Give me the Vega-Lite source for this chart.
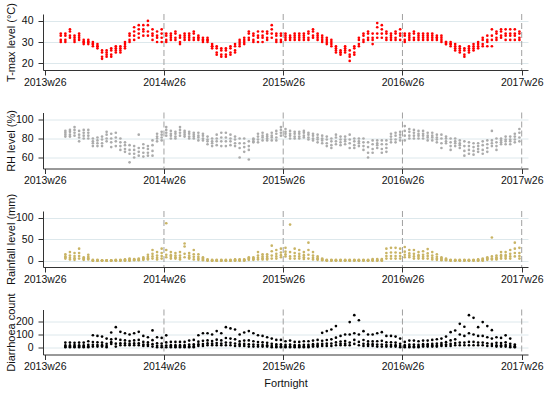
{
"$schema":"https://vega.github.io/schema/vega-lite/v6.json",
"padding":{"left":5,"top":2,"right":5,"bottom":2},
"background":"white",
"bounds":"flush",
"spacing":42.5,
"config":{"view":{"stroke":null},"font":"Liberation Sans",
"axis":{"domainColor":"#333333","tickColor":"#333333","labelColor":"#111111","titleColor":"#111111","labelFont":"Liberation Sans","titleFont":"Liberation Sans","titleFontWeight":"normal","labelFontSize":10.5,"titleFontSize":11,"tickSize":5,"gridColor":"#dde8ec","gridWidth":1},
"axisX":{"grid":false,"labelPadding":2},
"axisY":{"grid":true,"labelPadding":5,"titleBaseline":"bottom"}},
"data":{"values":[
{"w":7,"T":30,"H":null,"R":null,"D":null},{"w":7,"T":31,"H":null,"R":null,"D":null},{"w":7,"T":33,"H":null,"R":null,"D":null},{"w":7,"T":34,"H":null,"R":null,"D":null},
{"w":9,"T":30,"H":82,"R":5,"D":5},{"w":9,"T":31,"H":84,"R":8,"D":10},{"w":9,"T":33,"H":86,"R":10,"D":19},{"w":9,"T":34,"H":88,"R":15,"D":40},
{"w":11,"T":32,"H":82,"R":3,"D":5},{"w":11,"T":33,"H":84,"R":7,"D":10},{"w":11,"T":35,"H":87,"R":12,"D":19},{"w":11,"T":36,"H":89,"R":20,"D":40},
{"w":13,"T":30,"H":83,"R":2,"D":5},{"w":13,"T":31,"H":86,"R":6,"D":12},{"w":13,"T":32,"H":89,"R":11,"D":22},{"w":13,"T":33,"H":92,"R":18,"D":38},
{"w":15,"T":31,"H":77,"R":5,"D":6},{"w":15,"T":32,"H":81,"R":11,"D":11},{"w":15,"T":33,"H":84,"R":18,"D":20},{"w":15,"T":34,"H":88,"R":28,"D":40},
{"w":17,"T":29,"H":80,"R":2,"D":5},{"w":17,"T":30,"H":83,"R":4,"D":10},{"w":17,"T":30,"H":86,"R":5,"D":19},{"w":17,"T":31,"H":89,"R":8,"D":40},
{"w":19,"T":29,"H":80,"R":3,"D":5},{"w":19,"T":30,"H":83,"R":6,"D":12},{"w":19,"T":30,"H":86,"R":9,"D":23},{"w":19,"T":31,"H":89,"R":14,"D":50},
{"w":21,"T":28,"H":72,"R":0,"D":10},{"w":21,"T":29,"H":75,"R":0,"D":23},{"w":21,"T":29,"H":77,"R":1,"D":44},{"w":21,"T":30,"H":80,"R":2,"D":95},
{"w":23,"T":27,"H":72,"R":0,"D":10},{"w":23,"T":28,"H":75,"R":0,"D":22},{"w":23,"T":28,"H":78,"R":1,"D":42},{"w":23,"T":29,"H":81,"R":2,"D":90},
{"w":25,"T":22,"H":72,"R":0,"D":10},{"w":25,"T":23,"H":75,"R":0,"D":21},{"w":25,"T":25,"H":79,"R":1,"D":40},{"w":25,"T":26,"H":82,"R":1,"D":85},
{"w":27,"T":23,"H":77,"R":0,"D":5},{"w":27,"T":24,"H":80,"R":0,"D":15},{"w":27,"T":25,"H":84,"R":1,"D":31},{"w":27,"T":26,"H":87,"R":1,"D":70},
{"w":29,"T":23,"H":71,"R":0,"D":30},{"w":29,"T":24,"H":76,"R":0,"D":43},{"w":29,"T":26,"H":80,"R":1,"D":64},{"w":29,"T":27,"H":85,"R":1,"D":115},
{"w":31,"T":25,"H":72,"R":0,"D":10},{"w":31,"T":26,"H":77,"R":1,"D":32},{"w":31,"T":27,"H":81,"R":1,"D":68},{"w":31,"T":28,"H":86,"R":2,"D":155},
{"w":33,"T":25,"H":68,"R":0,"D":20},{"w":33,"T":26,"H":72,"R":1,"D":35},{"w":33,"T":27,"H":76,"R":1,"D":60},{"w":33,"T":28,"H":80,"R":2,"D":120},
{"w":35,"T":27,"H":66,"R":0,"D":20},{"w":35,"T":28,"H":69,"R":1,"D":34},{"w":35,"T":29,"H":73,"R":2,"D":56},{"w":35,"T":30,"H":76,"R":3,"D":110},
{"w":37,"T":30,"H":55,"R":0,"D":20},{"w":37,"T":31,"H":64,"R":1,"D":32},{"w":37,"T":33,"H":68,"R":3,"D":52},{"w":37,"T":34,"H":73,"R":5,"D":100},
{"w":39,"T":31,"H":60,"R":1,"D":20},{"w":39,"T":33,"H":64,"R":2,"D":34},{"w":39,"T":35,"H":68,"R":3,"D":56},{"w":39,"T":37,"H":72,"R":4,"D":110},
{"w":41,"T":32,"H":62,"R":1,"D":20},{"w":41,"T":34,"H":66,"R":2,"D":35},{"w":41,"T":36,"H":70,"R":3,"D":60},{"w":41,"T":38,"H":84,"R":5,"D":120},
{"w":43,"T":33,"H":61,"R":2,"D":15},{"w":43,"T":35,"H":65,"R":4,"D":26},{"w":43,"T":36,"H":70,"R":5,"D":45},{"w":43,"T":38,"H":74,"R":8,"D":90},
{"w":45,"T":33,"H":62,"R":3,"D":15},{"w":45,"T":35,"H":65,"R":6,"D":25},{"w":45,"T":38,"H":69,"R":9,"D":41},{"w":45,"T":40,"H":72,"R":14,"D":80},
{"w":47,"T":31,"H":62,"R":5,"D":10},{"w":47,"T":33,"H":67,"R":10,"D":28},{"w":47,"T":34,"H":73,"R":16,"D":58},{"w":47,"T":36,"H":78,"R":25,"D":131},
{"w":49,"T":30,"H":77,"R":3,"D":5},{"w":49,"T":32,"H":80,"R":7,"D":16},{"w":49,"T":33,"H":82,"R":12,"D":35},{"w":49,"T":35,"H":85,"R":20,"D":80},
{"w":51,"T":30,"H":78,"R":5,"D":5},{"w":51,"T":32,"H":81,"R":11,"D":16},{"w":51,"T":34,"H":84,"R":18,"D":33},{"w":51,"T":36,"H":87,"R":28,"D":75},
{"w":53,"T":30,"H":83,"R":8,"D":5},{"w":53,"T":31,"H":86,"R":14,"D":18},{"w":53,"T":33,"H":89,"R":25,"D":41},{"w":53,"T":34,"H":92,"R":87,"D":94},
{"w":55,"T":31,"H":80,"R":5,"D":5},{"w":55,"T":32,"H":83,"R":9,"D":11},{"w":55,"T":33,"H":85,"R":13,"D":21},{"w":55,"T":34,"H":88,"R":20,"D":45},
{"w":57,"T":31,"H":80,"R":5,"D":5},{"w":57,"T":32,"H":82,"R":8,"D":11},{"w":57,"T":34,"H":85,"R":12,"D":21},{"w":57,"T":35,"H":87,"R":18,"D":45},
{"w":59,"T":29,"H":83,"R":3,"D":5},{"w":59,"T":30,"H":86,"R":7,"D":11},{"w":59,"T":32,"H":89,"R":12,"D":21},{"w":59,"T":33,"H":92,"R":20,"D":45},
{"w":61,"T":31,"H":82,"R":8,"D":5},{"w":61,"T":32,"H":84,"R":16,"D":11},{"w":61,"T":33,"H":86,"R":33,"D":21},{"w":61,"T":34,"H":88,"R":40,"D":45},
{"w":63,"T":31,"H":80,"R":5,"D":5},{"w":63,"T":32,"H":82,"R":8,"D":12},{"w":63,"T":33,"H":85,"R":12,"D":25},{"w":63,"T":34,"H":87,"R":18,"D":55},
{"w":65,"T":31,"H":80,"R":3,"D":5},{"w":65,"T":32,"H":82,"R":9,"D":13},{"w":65,"T":34,"H":84,"R":15,"D":27},{"w":65,"T":35,"H":86,"R":25,"D":60},
{"w":67,"T":31,"H":78,"R":2,"D":15},{"w":67,"T":32,"H":81,"R":5,"D":27},{"w":67,"T":32,"H":83,"R":9,"D":47},{"w":67,"T":33,"H":86,"R":15,"D":95},
{"w":69,"T":30,"H":78,"R":1,"D":15},{"w":69,"T":31,"H":80,"R":3,"D":29},{"w":69,"T":31,"H":83,"R":5,"D":53},{"w":69,"T":32,"H":85,"R":8,"D":110},
{"w":71,"T":30,"H":74,"R":0,"D":20},{"w":71,"T":31,"H":77,"R":1,"D":34},{"w":71,"T":31,"H":79,"R":2,"D":56},{"w":71,"T":32,"H":82,"R":3,"D":110},
{"w":73,"T":27,"H":72,"R":0,"D":20},{"w":73,"T":28,"H":75,"R":0,"D":32},{"w":73,"T":28,"H":77,"R":1,"D":52},{"w":73,"T":29,"H":80,"R":2,"D":100},
{"w":75,"T":24,"H":73,"R":0,"D":20},{"w":75,"T":25,"H":77,"R":0,"D":36},{"w":75,"T":27,"H":80,"R":1,"D":62},{"w":75,"T":28,"H":84,"R":2,"D":126},
{"w":77,"T":23,"H":72,"R":0,"D":20},{"w":77,"T":24,"H":77,"R":0,"D":33},{"w":77,"T":26,"H":81,"R":1,"D":56},{"w":77,"T":27,"H":86,"R":2,"D":110},
{"w":79,"T":23,"H":72,"R":0,"D":20},{"w":79,"T":24,"H":77,"R":0,"D":40},{"w":79,"T":26,"H":81,"R":1,"D":74},{"w":79,"T":27,"H":86,"R":2,"D":155},
{"w":81,"T":24,"H":73,"R":0,"D":20},{"w":81,"T":25,"H":77,"R":0,"D":39},{"w":81,"T":27,"H":80,"R":1,"D":70},{"w":81,"T":28,"H":84,"R":2,"D":146},
{"w":83,"T":25,"H":72,"R":0,"D":15},{"w":83,"T":26,"H":75,"R":1,"D":33},{"w":83,"T":28,"H":79,"R":2,"D":64},{"w":83,"T":29,"H":82,"R":3,"D":138},
{"w":85,"T":28,"H":60,"R":0,"D":15},{"w":85,"T":29,"H":70,"R":1,"D":28},{"w":85,"T":30,"H":75,"R":2,"D":49},{"w":85,"T":31,"H":80,"R":3,"D":100},
{"w":87,"T":29,"H":66,"R":0,"D":15},{"w":87,"T":30,"H":71,"R":1,"D":30},{"w":87,"T":31,"H":75,"R":2,"D":55},{"w":87,"T":32,"H":80,"R":3,"D":115},
{"w":89,"T":31,"H":58,"R":2,"D":10},{"w":89,"T":32,"H":68,"R":4,"D":27},{"w":89,"T":34,"H":72,"R":5,"D":56},{"w":89,"T":35,"H":77,"R":8,"D":126},
{"w":91,"T":30,"H":76,"R":2,"D":10},{"w":91,"T":31,"H":77,"R":4,"D":25},{"w":91,"T":33,"H":79,"R":5,"D":50},{"w":91,"T":34,"H":80,"R":8,"D":110},
{"w":93,"T":30,"H":76,"R":3,"D":10},{"w":93,"T":32,"H":79,"R":7,"D":23},{"w":93,"T":33,"H":82,"R":12,"D":44},{"w":93,"T":35,"H":85,"R":20,"D":95},
{"w":95,"T":30,"H":78,"R":3,"D":10},{"w":95,"T":32,"H":81,"R":6,"D":22},{"w":95,"T":33,"H":83,"R":10,"D":42},{"w":95,"T":35,"H":86,"R":15,"D":90},
{"w":97,"T":31,"H":78,"R":3,"D":10},{"w":97,"T":32,"H":80,"R":6,"D":20},{"w":97,"T":34,"H":82,"R":10,"D":38},{"w":97,"T":35,"H":84,"R":15,"D":80},
{"w":99,"T":32,"H":78,"R":5,"D":5},{"w":99,"T":34,"H":81,"R":12,"D":15},{"w":99,"T":36,"H":83,"R":22,"D":31},{"w":99,"T":38,"H":86,"R":35,"D":70},
{"w":101,"T":30,"H":78,"R":5,"D":5},{"w":101,"T":31,"H":81,"R":10,"D":13},{"w":101,"T":33,"H":85,"R":16,"D":27},{"w":101,"T":34,"H":88,"R":25,"D":60},
{"w":103,"T":30,"H":83,"R":8,"D":5},{"w":103,"T":31,"H":86,"R":13,"D":13},{"w":103,"T":33,"H":89,"R":19,"D":27},{"w":103,"T":34,"H":92,"R":28,"D":60},
{"w":105,"T":31,"H":82,"R":10,"D":5},{"w":105,"T":32,"H":85,"R":15,"D":12},{"w":105,"T":33,"H":87,"R":21,"D":23},{"w":105,"T":34,"H":90,"R":30,"D":50},
{"w":107,"T":31,"H":80,"R":5,"D":5},{"w":107,"T":32,"H":83,"R":10,"D":12},{"w":107,"T":32,"H":85,"R":20,"D":25},{"w":107,"T":33,"H":88,"R":84,"D":55},
{"w":109,"T":31,"H":80,"R":5,"D":5},{"w":109,"T":32,"H":82,"R":11,"D":11},{"w":109,"T":33,"H":85,"R":18,"D":21},{"w":109,"T":34,"H":87,"R":28,"D":45},
{"w":111,"T":31,"H":80,"R":5,"D":5},{"w":111,"T":32,"H":82,"R":10,"D":11},{"w":111,"T":33,"H":85,"R":16,"D":21},{"w":111,"T":34,"H":87,"R":25,"D":45},
{"w":113,"T":31,"H":81,"R":4,"D":5},{"w":113,"T":32,"H":83,"R":8,"D":12},{"w":113,"T":33,"H":86,"R":13,"D":23},{"w":113,"T":34,"H":88,"R":20,"D":50},
{"w":115,"T":31,"H":79,"R":5,"D":5},{"w":115,"T":32,"H":81,"R":14,"D":12},{"w":115,"T":34,"H":84,"R":25,"D":23},{"w":115,"T":35,"H":86,"R":42,"D":50},
{"w":117,"T":32,"H":78,"R":3,"D":10},{"w":117,"T":33,"H":80,"R":7,"D":17},{"w":117,"T":35,"H":83,"R":12,"D":28},{"w":117,"T":36,"H":85,"R":20,"D":55},
{"w":119,"T":31,"H":76,"R":2,"D":10},{"w":119,"T":32,"H":79,"R":4,"D":18},{"w":119,"T":33,"H":81,"R":6,"D":30},{"w":119,"T":34,"H":84,"R":10,"D":60},
{"w":121,"T":30,"H":75,"R":1,"D":15},{"w":121,"T":31,"H":78,"R":2,"D":30},{"w":121,"T":32,"H":80,"R":3,"D":54},{"w":121,"T":33,"H":83,"R":5,"D":113},
{"w":123,"T":29,"H":72,"R":0,"D":15},{"w":123,"T":30,"H":75,"R":1,"D":32},{"w":123,"T":31,"H":79,"R":1,"D":59},{"w":123,"T":32,"H":82,"R":2,"D":126},
{"w":125,"T":28,"H":70,"R":0,"D":15},{"w":125,"T":29,"H":73,"R":1,"D":33},{"w":125,"T":30,"H":77,"R":1,"D":64},{"w":125,"T":31,"H":80,"R":2,"D":138},
{"w":127,"T":25,"H":74,"R":0,"D":20},{"w":127,"T":26,"H":77,"R":1,"D":41},{"w":127,"T":27,"H":81,"R":1,"D":77},{"w":127,"T":28,"H":84,"R":2,"D":163},
{"w":129,"T":24,"H":73,"R":0,"D":20},{"w":129,"T":25,"H":76,"R":1,"D":31},{"w":129,"T":25,"H":79,"R":1,"D":48},{"w":129,"T":26,"H":82,"R":2,"D":90},
{"w":131,"T":25,"H":74,"R":0,"D":20},{"w":131,"T":26,"H":77,"R":1,"D":32},{"w":131,"T":27,"H":79,"R":1,"D":52},{"w":131,"T":28,"H":82,"R":2,"D":100},
{"w":133,"T":21,"H":70,"R":0,"D":20},{"w":133,"T":23,"H":75,"R":1,"D":40},{"w":133,"T":24,"H":79,"R":1,"D":100},{"w":133,"T":26,"H":84,"R":2,"D":193},
{"w":135,"T":24,"H":70,"R":0,"D":30},{"w":135,"T":25,"H":73,"R":1,"D":60},{"w":135,"T":27,"H":77,"R":1,"D":110},{"w":135,"T":28,"H":80,"R":2,"D":245},
{"w":137,"T":28,"H":72,"R":0,"D":20},{"w":137,"T":29,"H":75,"R":1,"D":45},{"w":137,"T":31,"H":77,"R":1,"D":100},{"w":137,"T":32,"H":80,"R":2,"D":207},
{"w":139,"T":30,"H":68,"R":0,"D":15},{"w":139,"T":31,"H":72,"R":1,"D":31},{"w":139,"T":33,"H":76,"R":1,"D":59},{"w":139,"T":34,"H":80,"R":2,"D":125},
{"w":141,"T":31,"H":60,"R":0,"D":15},{"w":141,"T":32,"H":65,"R":1,"D":28},{"w":141,"T":34,"H":71,"R":1,"D":49},{"w":141,"T":35,"H":76,"R":2,"D":100},
{"w":143,"T":29,"H":65,"R":0,"D":15},{"w":143,"T":31,"H":69,"R":1,"D":28},{"w":143,"T":32,"H":74,"R":2,"D":49},{"w":143,"T":34,"H":78,"R":4,"D":100},
{"w":145,"T":32,"H":70,"R":0,"D":10},{"w":145,"T":34,"H":73,"R":1,"D":25},{"w":145,"T":37,"H":75,"R":2,"D":50},{"w":145,"T":39,"H":78,"R":4,"D":110},
{"w":147,"T":32,"H":65,"R":0,"D":10},{"w":147,"T":34,"H":69,"R":1,"D":26},{"w":147,"T":36,"H":74,"R":2,"D":53},{"w":147,"T":38,"H":78,"R":4,"D":118},
{"w":149,"T":31,"H":66,"R":5,"D":10},{"w":149,"T":32,"H":70,"R":11,"D":22},{"w":149,"T":34,"H":74,"R":18,"D":42},{"w":149,"T":35,"H":78,"R":28,"D":90},
{"w":151,"T":31,"H":76,"R":5,"D":10},{"w":151,"T":32,"H":79,"R":11,"D":22},{"w":151,"T":33,"H":82,"R":19,"D":42},{"w":151,"T":34,"H":85,"R":30,"D":90},
{"w":153,"T":31,"H":76,"R":5,"D":10},{"w":153,"T":32,"H":79,"R":11,"D":21},{"w":153,"T":34,"H":83,"R":19,"D":40},{"w":153,"T":35,"H":86,"R":30,"D":85},
{"w":155,"T":31,"H":78,"R":5,"D":5},{"w":155,"T":33,"H":81,"R":11,"D":15},{"w":155,"T":34,"H":84,"R":18,"D":31},{"w":155,"T":36,"H":87,"R":28,"D":70},
{"w":157,"T":30,"H":78,"R":8,"D":5},{"w":157,"T":31,"H":83,"R":14,"D":11},{"w":157,"T":33,"H":88,"R":21,"D":21},{"w":157,"T":34,"H":93,"R":32,"D":45},
{"w":159,"T":31,"H":80,"R":8,"D":5},{"w":159,"T":32,"H":83,"R":12,"D":12},{"w":159,"T":33,"H":87,"R":17,"D":25},{"w":159,"T":34,"H":90,"R":25,"D":55},
{"w":161,"T":31,"H":80,"R":5,"D":5},{"w":161,"T":32,"H":83,"R":10,"D":12},{"w":161,"T":34,"H":86,"R":16,"D":25},{"w":161,"T":35,"H":89,"R":25,"D":55},
{"w":163,"T":31,"H":80,"R":5,"D":5},{"w":163,"T":32,"H":83,"R":9,"D":12},{"w":163,"T":33,"H":85,"R":13,"D":23},{"w":163,"T":34,"H":88,"R":20,"D":50},
{"w":165,"T":31,"H":80,"R":5,"D":10},{"w":165,"T":32,"H":83,"R":9,"D":17},{"w":165,"T":33,"H":85,"R":14,"D":28},{"w":165,"T":34,"H":88,"R":22,"D":55},
{"w":167,"T":31,"H":78,"R":5,"D":10},{"w":167,"T":32,"H":81,"R":11,"D":17},{"w":167,"T":33,"H":83,"R":17,"D":28},{"w":167,"T":34,"H":86,"R":27,"D":55},
{"w":169,"T":31,"H":78,"R":3,"D":10},{"w":169,"T":32,"H":81,"R":7,"D":18},{"w":169,"T":33,"H":83,"R":12,"D":30},{"w":169,"T":34,"H":86,"R":20,"D":60},
{"w":171,"T":31,"H":76,"R":2,"D":10},{"w":171,"T":32,"H":79,"R":5,"D":18},{"w":171,"T":32,"H":81,"R":9,"D":32},{"w":171,"T":33,"H":84,"R":15,"D":65},
{"w":173,"T":30,"H":70,"R":1,"D":15},{"w":173,"T":31,"H":75,"R":3,"D":23},{"w":173,"T":32,"H":80,"R":5,"D":37},{"w":173,"T":33,"H":84,"R":8,"D":70},
{"w":175,"T":29,"H":75,"R":1,"D":15},{"w":175,"T":29,"H":77,"R":2,"D":26},{"w":175,"T":30,"H":80,"R":3,"D":43},{"w":175,"T":30,"H":82,"R":5,"D":85},
{"w":177,"T":28,"H":68,"R":0,"D":15},{"w":177,"T":29,"H":72,"R":1,"D":30},{"w":177,"T":29,"H":76,"R":1,"D":56},{"w":177,"T":30,"H":80,"R":2,"D":118},
{"w":179,"T":26,"H":72,"R":0,"D":20},{"w":179,"T":27,"H":75,"R":1,"D":37},{"w":179,"T":28,"H":77,"R":1,"D":64},{"w":179,"T":29,"H":80,"R":2,"D":130},
{"w":181,"T":25,"H":70,"R":0,"D":20},{"w":181,"T":26,"H":73,"R":1,"D":40},{"w":181,"T":27,"H":75,"R":1,"D":100},{"w":181,"T":28,"H":78,"R":2,"D":180},
{"w":183,"T":23,"H":62,"R":0,"D":20},{"w":183,"T":24,"H":67,"R":1,"D":40},{"w":183,"T":26,"H":72,"R":1,"D":90},{"w":183,"T":27,"H":77,"R":2,"D":158},
{"w":185,"T":25,"H":64,"R":0,"D":20},{"w":185,"T":26,"H":68,"R":1,"D":45},{"w":185,"T":27,"H":72,"R":1,"D":110},{"w":185,"T":28,"H":76,"R":2,"D":245},
{"w":187,"T":26,"H":63,"R":0,"D":20},{"w":187,"T":27,"H":67,"R":1,"D":45},{"w":187,"T":28,"H":71,"R":1,"D":100},{"w":187,"T":29,"H":75,"R":2,"D":225},
{"w":189,"T":27,"H":66,"R":0,"D":20},{"w":189,"T":28,"H":69,"R":1,"D":40},{"w":189,"T":29,"H":72,"R":2,"D":90},{"w":189,"T":30,"H":75,"R":3,"D":155},
{"w":191,"T":28,"H":64,"R":0,"D":20},{"w":191,"T":29,"H":68,"R":1,"D":40},{"w":191,"T":31,"H":73,"R":3,"D":90},{"w":191,"T":32,"H":77,"R":5,"D":193},
{"w":193,"T":28,"H":66,"R":2,"D":15},{"w":193,"T":30,"H":70,"R":4,"D":35},{"w":193,"T":31,"H":74,"R":5,"D":80},{"w":193,"T":33,"H":78,"R":8,"D":163},
{"w":195,"T":28,"H":72,"R":3,"D":15},{"w":195,"T":31,"H":75,"R":5,"D":30},{"w":195,"T":33,"H":78,"R":10,"D":70},{"w":195,"T":36,"H":88,"R":54,"D":133},
{"w":197,"T":31,"H":68,"R":3,"D":10},{"w":197,"T":32,"H":72,"R":5,"D":20},{"w":197,"T":34,"H":76,"R":8,"D":38},{"w":197,"T":35,"H":80,"R":12,"D":80},
{"w":199,"T":32,"H":74,"R":5,"D":10},{"w":199,"T":33,"H":76,"R":9,"D":20},{"w":199,"T":35,"H":78,"R":13,"D":36},{"w":199,"T":36,"H":80,"R":20,"D":75},
{"w":201,"T":31,"H":74,"R":5,"D":10},{"w":201,"T":33,"H":77,"R":9,"D":22},{"w":201,"T":34,"H":79,"R":13,"D":42},{"w":201,"T":36,"H":82,"R":20,"D":94},
{"w":203,"T":31,"H":74,"R":5,"D":5},{"w":203,"T":33,"H":77,"R":10,"D":15},{"w":203,"T":34,"H":79,"R":16,"D":31},{"w":203,"T":36,"H":82,"R":25,"D":70},
{"w":205,"T":31,"H":76,"R":10,"D":5},{"w":205,"T":33,"H":79,"R":18,"D":8},{"w":205,"T":34,"H":82,"R":28,"D":13},{"w":205,"T":36,"H":85,"R":42,"D":25},
{"w":207,"T":31,"H":77,"R":5,"D":null},{"w":207,"T":32,"H":81,"R":11,"D":null},{"w":207,"T":34,"H":86,"R":18,"D":null},{"w":207,"T":35,"H":90,"R":30,"D":null}
]},
"vconcat":[
{"width":485,"height":56,
"encoding":{"x":{"field":"w","type":"quantitative","scale":{"domain":[-0.75,210.75],"nice":false,"zero":false},"axis":{"values":[0,52,104,156,208],"labelExpr":"(2013 + round(datum.value/52)) + 'w26'","title":null}}},
"layer":[
{"data":{"values":[{"w":52},{"w":104},{"w":156},{"w":208}]},"mark":{"type":"rule","color":"#a0a0a0","strokeDash":[6,3],"strokeWidth":1},"encoding":{}},
{"mark":{"type":"point","filled":true,"shape":"circle","size":7,"color":"#ff0000","opacity":1},
"encoding":{"y":{"field":"T","type":"quantitative","scale":{"domain":[16.7,43.3],"nice":false,"zero":false},"axis":{"values":[20,30,40],"title":"T-max level (°C)","titleX":-27,"titleY":28}}}}
]},
{"width":485,"height":56,
"encoding":{"x":{"field":"w","type":"quantitative","scale":{"domain":[-0.75,210.75],"nice":false,"zero":false},"axis":{"values":[0,52,104,156,208],"labelExpr":"(2013 + round(datum.value/52)) + 'w26'","title":null}}},
"layer":[
{"data":{"values":[{"w":52},{"w":104},{"w":156},{"w":208}]},"mark":{"type":"rule","color":"#a0a0a0","strokeDash":[6,3],"strokeWidth":1},"encoding":{}},
{"mark":{"type":"point","filled":true,"shape":"circle","size":7,"color":"#ababab","opacity":1},
"encoding":{"y":{"field":"H","type":"quantitative","scale":{"domain":[48.5,107.3],"nice":false,"zero":false},"axis":{"values":[60,80,100],"title":"RH level (%)","titleX":-27,"titleY":28}}}}
]},
{"width":485,"height":56,
"encoding":{"x":{"field":"w","type":"quantitative","scale":{"domain":[-0.75,210.75],"nice":false,"zero":false},"axis":{"values":[0,52,104,156,208],"labelExpr":"(2013 + round(datum.value/52)) + 'w26'","title":null}}},
"layer":[
{"data":{"values":[{"w":52},{"w":104},{"w":156},{"w":208}]},"mark":{"type":"rule","color":"#a0a0a0","strokeDash":[6,3],"strokeWidth":1},"encoding":{}},
{"mark":{"type":"point","filled":true,"shape":"circle","size":7,"color":"#c9b465","opacity":1},
"encoding":{"y":{"field":"R","type":"quantitative","scale":{"domain":[-14.6,115.6],"nice":false,"zero":false},"axis":{"values":[0,50,100],"title":"Rainfall level (mm)","titleX":-27,"titleY":28}}}}
]},
{"width":485,"height":45,
"encoding":{"x":{"field":"w","type":"quantitative","scale":{"domain":[-0.75,210.75],"nice":false,"zero":false},"axis":{"values":[0,52,104,156,208],"labelExpr":"(2013 + round(datum.value/52)) + 'w26'","title":"Fortnight","titlePadding":5}}},
"layer":[
{"data":{"values":[{"w":52},{"w":104},{"w":156},{"w":208}]},"mark":{"type":"rule","color":"#a0a0a0","strokeDash":[6,3],"strokeWidth":1},"encoding":{}},
{"mark":{"type":"point","filled":true,"shape":"circle","size":7,"color":"#000000","opacity":1},
"encoding":{"y":{"field":"D","type":"quantitative","scale":{"domain":[-49,287],"nice":false,"zero":false},"axis":{"values":[0,100,200],"title":"Diarrhoea count","titleX":-27,"titleY":22.5}}}}
]}
]
}
